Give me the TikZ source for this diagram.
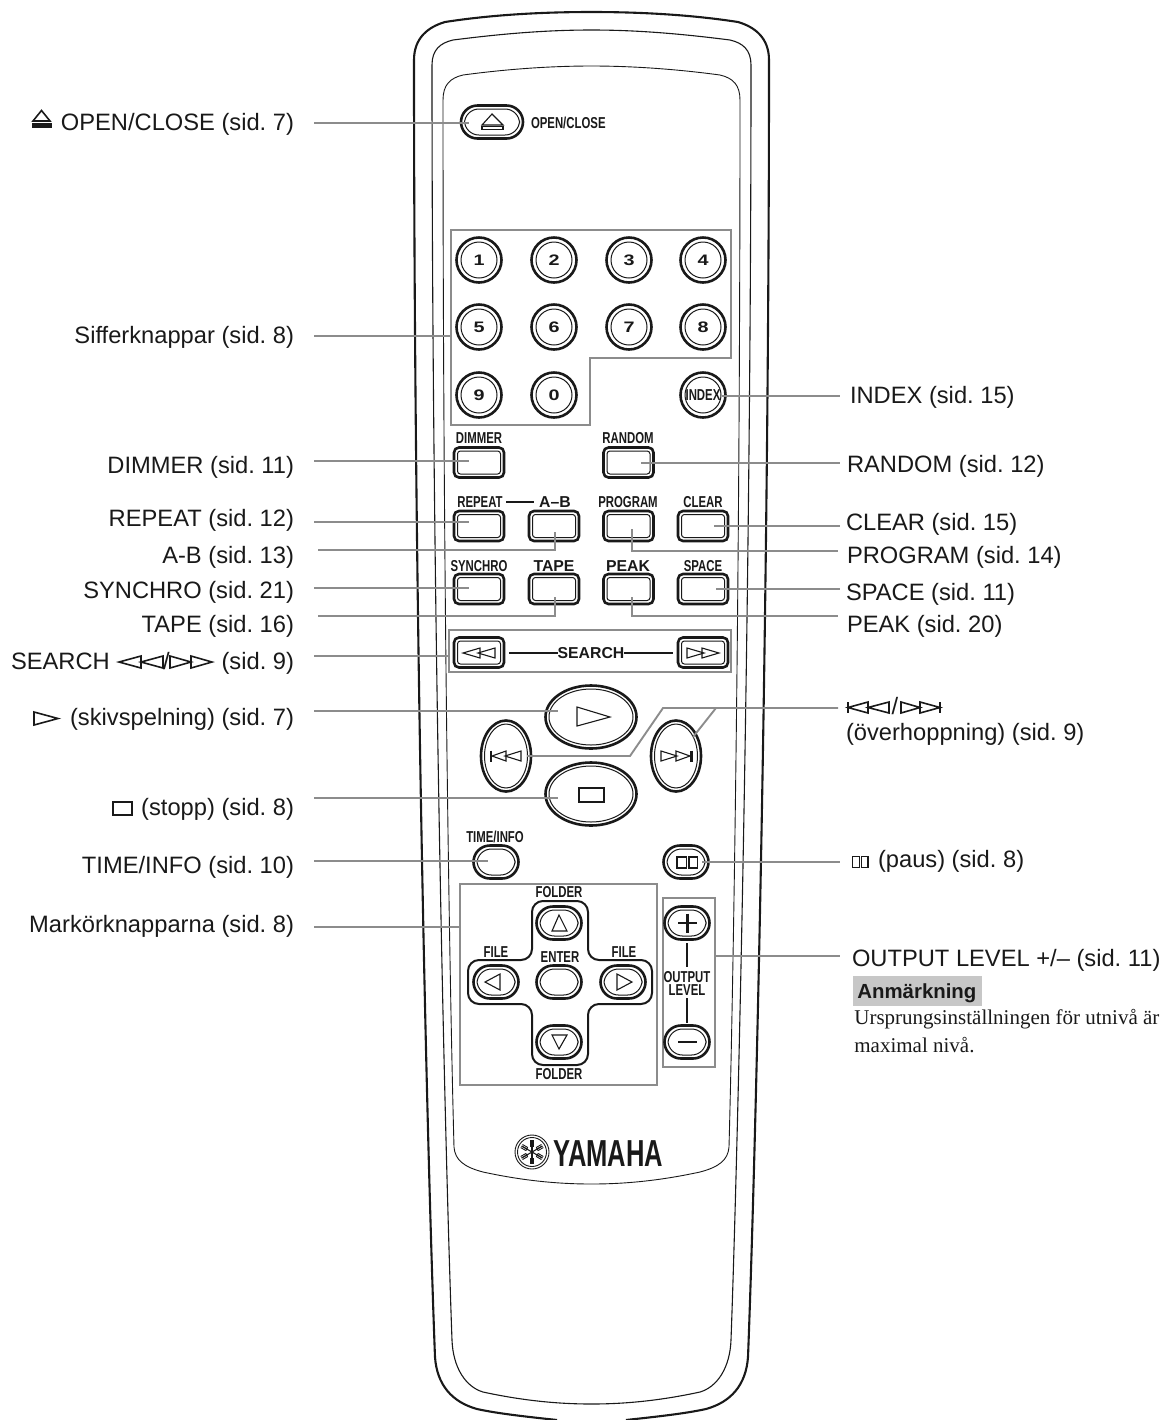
\documentclass[tikz,border=0pt]{standalone}
\usepackage{fontspec}
\usetikzlibrary{shapes.geometric}
\setmainfont{Liberation Sans}
\newfontfamily\serifx{Liberation Serif}
\newfontfamily\condf[FakeStretch=0.72]{Liberation Sans}
\newfontfamily\wdnum[FakeStretch=1.3]{Liberation Sans}
\newfontfamily\yamf[FakeStretch=0.68]{Liberation Sans}
\frenchspacing
\tikzset{
  x=0.5pt,y=-0.5pt,
  shellA/.style={line width=1.05pt,black!90},
  shellB/.style={line width=0.55pt,black!90},
  shellC/.style={line width=0.45pt,black!90},
  grp/.style={draw=black!45,line width=1.05pt},
  conn/.style={draw=black!45,line width=0.95pt},
  sym/.style={draw=black!90,line width=0.55pt,line join=miter},
  symt/.style={draw=black!90,line width=0.8pt,line join=miter},
  blk/.style={draw=black!90,line width=1pt},
  outerb/.style={draw=black!90,line width=1.3pt,inner sep=0,outer sep=0,fill=white},
  innerb/.style={draw=black!90,line width=0.5pt,inner sep=0,outer sep=0},
  lab/.style={font=\fontsize{11.85}{14}\selectfont,inner sep=0,outer sep=0,text=black!90},
  labl/.style={lab,anchor=base east},
  labr/.style={lab,anchor=base west},
  btncap/.style={font=\condf\bfseries\fontsize{7.9}{9}\selectfont,inner sep=0,outer sep=0,text=black!90},
  capw/.style={font=\bfseries\fontsize{7.9}{9}\selectfont,inner sep=0,outer sep=0,text=black!90},
  dig/.style={font=\wdnum\bfseries\fontsize{7.6}{9}\selectfont,inner sep=0,outer sep=0,text=black!90},
}
% rounded button: name cx cy w h r inset
\newcommand{\rbtn}[7]{%
  \node[outerb,rectangle,rounded corners=#6*0.5pt,minimum width=#4*0.5pt,minimum height=#5*0.5pt] (#1) at (#2,#3) {};
  \node[innerb,rectangle,rounded corners=(#6-#7*0.6)*0.5pt,minimum width=(#4-2*#7)*0.5pt,minimum height=(#5-2*#7)*0.5pt] (#1i) at (#2,#3) {};}
\newcommand{\ebtn}[5]{%
  \node[outerb,ellipse,minimum width=#4*0.5pt,minimum height=#5*0.5pt] (#1) at (#2,#3) {};
  \node[innerb,ellipse,minimum width=(#4-7)*0.5pt,minimum height=(#5-7)*0.5pt] (#1i) at (#2,#3) {};}
\newcommand{\numb}[4]{%
  \node[outerb,circle,minimum size=45*0.5pt] (#1) at (#2,#3) {};
  \node[innerb,circle,minimum size=36*0.5pt] (#1i) at (#2,#3) {};
  \node[dig] (#1t) at (#2,#3) {#4};}
\newcommand{\link}[5]{\coordinate (#1a) at (#2,#3); \coordinate (#1b) at (#4,#5); \draw[conn] (#1a) -- (#1b);}
\begin{document}
\begin{tikzpicture}
\useasboundingbox (0,0) rectangle (1165,1420);
\clip (0,0) rectangle (1165,1420);
% shells
\draw[shellA] (557,1420) .. controls (530,1417) and (500,1414) .. (477,1409)
  .. controls (452,1402) and (437,1385) .. (435,1357)
  .. controls (427,1150) and (414,600) .. (414,60)
  .. controls (414,38) and (428,27) .. (445,22)
  .. controls (490,15) and (540,12) .. (591.5,12)
  .. controls (643,12) and (693,15) .. (738,22)
  .. controls (755,27) and (769,38) .. (769,60)
  .. controls (769,600) and (756,1150) .. (748,1357)
  .. controls (746,1385) and (731,1402) .. (706,1409)
  .. controls (683,1414) and (653,1417) .. (626,1420);
\draw[shellB] (591.5,1404) .. controls (555,1404) and (520,1400) .. (483,1392)
  .. controls (466,1387) and (453,1368) .. (452,1340)
  .. controls (445,1150) and (432,600) .. (432,65)
  .. controls (432,50) and (440,43) .. (453,40)
  .. controls (500,34) and (545,30) .. (591.5,30)
  .. controls (638,30) and (683,34) .. (730,40)
  .. controls (743,43) and (751,50) .. (751,65)
  .. controls (751,600) and (738,1150) .. (731,1340)
  .. controls (730,1368) and (717,1387) .. (700,1392)
  .. controls (663,1400) and (628,1404) .. (591.5,1404) -- cycle;
\draw[shellC] (591.5,1184) .. controls (555,1184) and (520,1180) .. (483,1172)
  .. controls (464,1167) and (455,1160) .. (454,1147)
  .. controls (450,1000) and (443,600) .. (443,100)
  .. controls (443,85) and (450,78) .. (463,75)
  .. controls (500,70) and (545,66) .. (591.5,66)
  .. controls (638,66) and (683,70) .. (720,75)
  .. controls (733,78) and (740,85) .. (740,100)
  .. controls (740,600) and (733,1000) .. (729,1147)
  .. controls (728,1160) and (719,1167) .. (700,1172)
  .. controls (663,1180) and (628,1184) .. (591.5,1184) -- cycle;
% group frames
\draw[grp] (451,230) -- (731,230) -- (731,358) -- (590,358) -- (590,425) -- (451,425) -- cycle;
\draw[grp] (449,630) rectangle (731,672);
\draw[grp] (460,884) rectangle (657,1085);
\draw[grp] (663,898) rectangle (715,1067);
% open/close
\rbtn{open}{492}{122}{62}{33}{16.5}{3.5}
\draw[sym] (492,114) -- (482,125) -- (503,125) -- cycle;
\draw[sym] (482,126.5) rectangle (503,129.5);
\node[btncap,anchor=west] (openT) at (531,123) {OPEN/CLOSE};
% number keys
\numb{n1}{479}{260}{1}\numb{n2}{554}{260}{2}\numb{n3}{629}{260}{3}\numb{n4}{703}{260}{4}
\numb{n5}{479}{327}{5}\numb{n6}{554}{327}{6}\numb{n7}{629}{327}{7}\numb{n8}{703}{327}{8}
\numb{n9}{479}{395}{9}\numb{n0}{554}{395}{0}\numb{nI}{703}{395}{}
\node[btncap] (nIT) at (703,395) {INDEX};
% rectangular buttons
\rbtn{dim}{479}{462.5}{50}{30}{5}{3.5}\node[btncap] (dimT) at (479,438) {DIMMER};
\rbtn{ran}{628.5}{462.5}{50}{30}{5}{3.5}\node[btncap] (ranT) at (628,438) {RANDOM};
\rbtn{rep}{479}{526}{50}{30}{5}{3.5}\node[btncap] (repT) at (480,502) {REPEAT};
\rbtn{ab}{554}{526}{50}{30}{5}{3.5}\node[capw] (abT) at (555,502) {A–B};
\draw[blk] (506,502) -- (534,502);
\rbtn{pro}{628.5}{526}{50}{30}{5}{3.5}\node[btncap] (proT) at (628,502) {PROGRAM};
\rbtn{cle}{703}{526}{50}{30}{5}{3.5}\node[btncap] (cleT) at (703,502) {CLEAR};
\rbtn{syn}{479}{589}{50}{30}{5}{3.5}\node[btncap] (synT) at (479,566) {SYNCHRO};
\rbtn{tap}{554}{589}{50}{30}{5}{3.5}\node[capw] (tapT) at (554,566) {TAPE};
\rbtn{pea}{628.5}{589}{50}{30}{5}{3.5}\node[capw] (peaT) at (628,566) {PEAK};
\rbtn{spa}{703}{589}{50}{30}{5}{3.5}\node[btncap] (spaT) at (703,566) {SPACE};
% search
\rbtn{sl}{479}{652.5}{50}{30}{5}{3.5}
\rbtn{sr}{703}{652.5}{50}{30}{5}{3.5}
\draw[sym] (463,653) -- (480,648) -- (480,658) -- cycle;
\draw[sym] (478,653) -- (495,648) -- (495,658) -- cycle;
\draw[sym] (719,653) -- (702,648) -- (702,658) -- cycle;
\draw[sym] (704,653) -- (687,648) -- (687,658) -- cycle;
\node[capw] (seaT) at (591,653) {SEARCH};
\coordinate (seaL) at (509,653); \coordinate (seaR) at (673,653);
\draw[blk] (seaL) -- (seaT.west);
\draw[blk] (seaT.east) -- (seaR);
% transport
\ebtn{play}{591}{717}{91}{63}
\ebtn{stop}{591}{794}{91}{63}
\ebtn{prev}{506}{756}{50}{71}
\ebtn{next}{676}{756}{50}{71}
\draw[sym] (577,707) -- (577,726) -- (610,717) -- cycle;
\draw[sym] (579,788) rectangle (604,802);
\draw[sym] (521,751) -- (505,756) -- (521,761) -- cycle;
\draw[sym] (506,751) -- (492,756) -- (506,761) -- cycle;
\draw[symt,line width=1.2pt] (491,750.5) -- (491,761.5);
\draw[sym] (661,751) -- (677,756) -- (661,761) -- cycle;
\draw[sym] (676,751) -- (690,756) -- (676,761) -- cycle;
\draw[symt,line width=1.2pt] (691.5,750.5) -- (691.5,761.5);
% time/info, pause
\rbtn{tim}{496}{862}{45}{33}{16.5}{3.5}\node[btncap] (timT) at (495,837) {TIME/INFO};
\rbtn{pau}{686}{862}{45}{33}{16.5}{3.5}
\draw[sym] (677,857) rectangle (686.5,868);
\draw[sym] (689,857) rectangle (697.5,868);
% cursor cross
\draw[blk,rounded corners=5.5pt] (532,901) -- (588,901) -- (588,960) -- (652,960) -- (652,1004) -- (588,1004) -- (588,1065) -- (532,1065) -- (532,1004) -- (468,1004) -- (468,960) -- (532,960) -- cycle;
\rbtn{up}{559}{923}{45}{33}{16.5}{3.5}
\rbtn{lf}{496}{982}{45}{33}{16.5}{3.5}
\rbtn{en}{559}{982}{45}{33}{16.5}{3.5}
\rbtn{rt}{623}{982}{45}{33}{16.5}{3.5}
\rbtn{dn}{559}{1042}{45}{33}{16.5}{3.5}
\draw[sym] (559,915) -- (552,931) -- (567,931) -- cycle;
\draw[sym] (485,982) -- (500,974) -- (500,990) -- cycle;
\draw[sym] (632,982) -- (617,974) -- (617,990) -- cycle;
\draw[sym] (559,1049) -- (552,1035) -- (567,1035) -- cycle;
\node[btncap] (fu) at (559,892) {FOLDER};
\node[btncap] (fd) at (559,1074) {FOLDER};
\node[btncap] (fl) at (496,952) {FILE};
\node[btncap] (fr) at (624,952) {FILE};
\node[btncap] (ent) at (560,957) {ENTER};
% output level
\rbtn{plu}{687}{923}{45}{33}{16.5}{3.5}
\rbtn{min}{687}{1042}{45}{33}{16.5}{3.5}
\draw[line width=1.2pt,black!90] (678,923) -- (697,923) (687.5,913.5) -- (687.5,932.5);
\draw[line width=1.2pt,black!90] (678,1042) -- (697,1042);
\node[btncap] (oo) at (687,977) {OUTPUT};
\node[btncap] (ol) at (687,990) {LEVEL};
\coordinate (ou1) at (687,943); \coordinate (ou2) at (687,967); \coordinate (ou3) at (687,998); \coordinate (ou4) at (687,1023);
\draw[blk] (ou1) -- (ou2);
\draw[blk] (ou3) -- (ou4);
% yamaha
\node[draw=black!90,circle,line width=0.45pt,minimum size=34*0.5pt,inner sep=0] (lo) at (532,1152) {};
\node[draw=black!90,circle,line width=0.45pt,minimum size=29*0.5pt,inner sep=0] (li) at (532,1152) {};
\begin{scope}[shift={(532,1152)}]
\foreach \a in {30,90,150}{
  \begin{scope}[rotate=\a]
  \draw[line width=0.55pt,black!90] (-12,0) -- (12,0);
  \draw[line width=0.45pt,black!90] (12,0) -- (6,0) (6,-1.8) -- (12,-1.8) (6,1.8) -- (12,1.8) (6,-1.8) -- (6,1.8);
  \draw[line width=0.45pt,black!90] (-12,0) -- (-6,0) (-6,-1.8) -- (-12,-1.8) (-6,1.8) -- (-12,1.8) (-6,-1.8) -- (-6,1.8);
  \end{scope}}
\end{scope}
\node[anchor=base west,inner sep=0,font=\yamf\bfseries\fontsize{18.8}{20}\selectfont,text=black!90] (yam) at (553,1166) {YAMAHA};
% left labels
\node[labl] (L1) at (294,130) {OPEN/CLOSE (sid. 7)};
\draw[symt] (41.5,110.5) -- (33,121) -- (50,121) -- cycle;
\draw[black!90,fill=black!90] (32,123.5) rectangle (51,127.5);
\node[labl] (L2) at (294,343) {Sifferknappar (sid. 8)};
\node[labl] (L3) at (294,473) {DIMMER (sid. 11)};
\node[labl] (L4) at (294,526) {REPEAT (sid. 12)};
\node[labl] (L5) at (294,563) {A-B (sid. 13)};
\node[labl] (L6) at (294,598) {SYNCHRO (sid. 21)};
\node[labl] (L7) at (294,632) {TAPE (sid. 16)};
\node[labl] (L8) at (294,669) {(sid. 9)};
\node[lab,anchor=base west] (L8a) at (11,669) {SEARCH};
\draw[symt] (119,662) -- (141,656) -- (141,668) -- cycle;
\draw[symt] (141,662) -- (163,656) -- (163,668) -- cycle;
\node[lab,anchor=base] (L8b) at (166.5,669) {/};
\draw[symt] (170,656) -- (170,668) -- (191,662) -- cycle;
\draw[symt] (191,656) -- (191,668) -- (212,662) -- cycle;
\node[labl] (L9) at (294,725) {(skivspelning) (sid. 7)};
\draw[symt] (34,712) -- (34,725) -- (58,718.5) -- cycle;
\node[labl] (L10) at (294,815) {(stopp) (sid. 8)};
\draw[symt] (113,802) rectangle (132,815);
\node[labl] (L11) at (294,873) {TIME/INFO (sid. 10)};
\node[labl] (L12) at (294,932) {Markörknapparna (sid. 8)};
% right labels
\node[labr] (R1) at (850,403) {INDEX (sid. 15)};
\node[labr] (R2) at (847,472) {RANDOM (sid. 12)};
\node[labr] (R3) at (846,530) {CLEAR (sid. 15)};
\node[labr] (R4) at (847,563) {PROGRAM (sid. 14)};
\node[labr] (R5) at (846,600) {SPACE (sid. 11)};
\node[labr] (R6) at (847,632) {PEAK (sid. 20)};
\draw[symt,line width=1.2pt] (848,702) -- (848,713);
\draw[symt] (848,707.5) -- (868,702) -- (868,713) -- cycle;
\draw[symt] (868,707.5) -- (889,702) -- (889,713) -- cycle;
\node[lab,anchor=base] (R7a) at (895,714) {/};
\draw[symt] (901,702) -- (901,713) -- (920,707.5) -- cycle;
\draw[symt] (920,702) -- (920,713) -- (940,707.5) -- cycle;
\draw[symt,line width=1.2pt] (940,702) -- (940,713);
\node[labr] (R7) at (846,740) {(överhoppning) (sid. 9)};
\draw[symt] (852.5,856.5) rectangle (859.5,867.5);
\draw[symt] (861.5,856.5) rectangle (868,867.5);
\node[labr] (R8) at (878,867) {(paus) (sid. 8)};
\node[labr] (R9) at (852,966) {OUTPUT LEVEL +/– (sid. 11)};
\node[anchor=west,fill=black!22,minimum width=129*0.5pt,minimum height=30*0.5pt,inner sep=0,outer sep=0] (anmbox) at (853,991) {};
\node[anchor=base west,inner sep=0,font=\bfseries\fontsize{10.2}{12}\selectfont,text=black!90] (anm) at (857,998) {Anmärkning};
\node[anchor=base west,inner sep=0,font=\serifx\fontsize{10.5}{12}\selectfont,text=black!90] (nt1) at (854,1024) {Ursprungsinställningen för utnivå är};
\node[anchor=base west,inner sep=0,font=\serifx\fontsize{10.5}{12}\selectfont,text=black!90] (nt2) at (854,1052) {maximal nivå.};
% connectors
\link{c1}{314}{123}{469}{123}
\link{c2}{314}{336}{451}{336}
\link{c3}{314}{461}{469}{461}
\link{c4}{314}{522}{469}{522}
\coordinate (c5a) at (318,550); \coordinate (c5k) at (555,550); \coordinate (c5b) at (555,532);
\draw[conn] (c5a) -- (c5k) -- (c5b);
\link{c6}{314}{588}{469}{588}
\coordinate (c7a) at (318,616); \coordinate (c7k) at (555,616); \coordinate (c7b) at (555,597);
\draw[conn] (c7a) -- (c7k) -- (c7b);
\link{c8}{314}{656}{449}{656}
\link{c9}{314}{711}{558}{711}
\link{c10}{314}{798}{558}{798}
\link{c11}{314}{861}{488}{861}
\link{c12}{314}{927}{460}{927}
\link{d1}{722}{396}{840}{396}
\link{d2}{641}{463}{840}{463}
\link{d3}{714}{526}{840}{526}
\coordinate (d4a) at (632,529); \coordinate (d4k) at (632,551); \coordinate (d4b) at (838,551);
\draw[conn] (d4a) -- (d4k) -- (d4b);
\link{d5}{716}{589}{840}{589}
\coordinate (d6a) at (632,597); \coordinate (d6k) at (632,616); \coordinate (d6b) at (838,616);
\draw[conn] (d6a) -- (d6k) -- (d6b);
\coordinate (d7a) at (527,756); \coordinate (d7k) at (630,756); \coordinate (d7l) at (663,708); \coordinate (d7b) at (838,708);
\draw[conn] (d7a) -- (d7k) -- (d7l) -- (d7b);
\coordinate (d7c) at (716,708); \coordinate (d7d) at (693,737);
\draw[conn] (d7c) -- (d7d);
\link{d8}{702}{862}{840}{862}
\link{d9}{715}{956}{840}{956}
\end{tikzpicture}
\end{document}
